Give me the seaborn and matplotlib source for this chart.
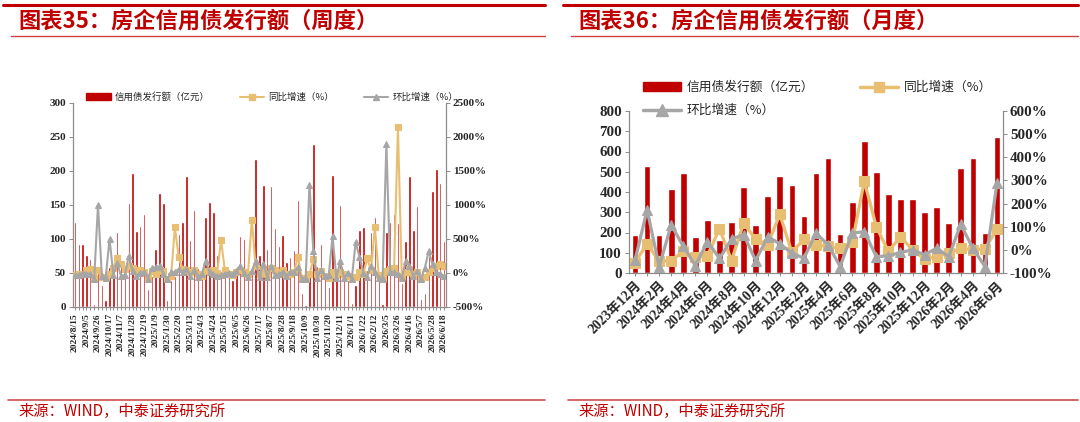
import numpy as np
import pandas as pd
import seaborn as sns
import matplotlib.pyplot as plt
from matplotlib.patches import Patch
from matplotlib.lines import Line2D
from matplotlib.ticker import FuncFormatter

sns.set_theme(style="ticks")
plt.rcParams['font.family'] = ['Liberation Serif', 'Noto Sans CJK SC', 'DejaVu Sans']

RED = "#C00000"
GOLD = "#E8BF72"
GRAY = "#A6A6A6"
AXC = "#8C8C8C"
CJK = ['Noto Sans CJK SC', 'DejaVu Sans']
SERIF = ['Liberation Serif', 'Noto Sans CJK SC']

# weekly data (left chart)
weeks = pd.date_range("2024-08-15", periods=97, freq="7D")
week_labels = [f"{d.year}/{d.month}/{d.day}" for d in weeks]
week_amount = [125, 92, 92, 77, 70, 5, 55, 33, 10, 59,
               45, 110, 60, 44, 153, 197, 112, 119, 137, 26,
               45, 85, 168, 153, 11, 40, 45, 107, 125, 193,
               98, 143, 57, 48, 133, 155, 139, 77, 50, 45,
               48, 40, 50, 105, 100, 45, 60, 217, 76, 180,
               85, 178, 116, 90, 106, 66, 73, 84, 157, 20,
               3, 48, 240, 61, 92, 45, 30, 194, 54, 150,
               40, 40, 6, 33, 113, 118, 55, 111, 133, 40,
               5, 110, 125, 137, 123, 35, 97, 193, 113, 149,
               12, 21, 75, 170, 203, 182, 97]
week_yoy = [-30, -20, -10, 40, 60, -80, 50, -60, -70, -20,
            80, 220, 130, 60, 110, 80, 40, 50, 10, -60,
            30, -20, 50, 30, -90, -40, 670, 230, 60, 50,
            20, 40, -20, -40, 30, 20, 50, 0, 480, 40,
            -10, -30, 10, 40, 20, -20, 780, 100, -20, 60,
            -10, 80, 40, 10, 50, -30, -20, 20, 240, -70,
            -90, -20, 200, -10, 30, -40, -70, 20, -30, 10,
            -20, -50, -90, -60, 10, -10, 215, 40, 680, -30,
            -80, 30, 60, 70, 2140, -40, 10, 60, -10, 20,
            -80, -60, 20, 80, 100, 130, 100]
week_mom = [-30, -26, 0, -16, -9, -93, 1000, -40, -70, 500,
            -24, 140, -45, -27, 250, 29, -43, 6, 15, -81,
            73, 89, 98, -9, -93, 10, 15, 60, 17, 54,
            -49, 46, -60, -16, 177, 17, -10, -45, -35, -10,
            7, -17, 25, 110, -5, -55, 33, 170, -65, 137,
            -53, 109, -35, -22, 18, -38, 11, 15, 87, -87,
            -85, 1300, 330, -75, 51, -51, -33, 540, -72, 178,
            -73, 0, -85, 450, 240, 4, -53, 102, 20, -70,
            -88, 1900, 14, 10, -10, -72, 177, 99, -41, 32,
            -92, 75, 320, 127, 19, -10, -47]

# monthly data (right chart)
months = pd.period_range("2023-12", "2026-06", freq="M")
month_labels = [f"{p.year}年{p.month}月" for p in months]
month_amount = [190, 530, 190, 415, 495, 180, 260, 165, 250, 425,
                235, 380, 480, 435, 280, 495, 570, 195, 350, 650,
                500, 390, 365, 365, 300, 325, 245, 520, 570, 200, 670]
month_yoy = [-55, 27, -50, -46, -7, -33, -26, 92, -46, 115,
             46, 22, 154, -11, 46, 20, 15, 7, 32, 297,
             100, -7, 57, 0, -40, -29, -14, 7, 0, 4, 90]
month_mom = [-45, 173, -72, 108, 15, -68, 36, -37, 46, 66,
             -46, 57, 26, -14, -36, 72, 22, -72, 72, 79,
             -29, -26, -11, 0, -21, 7, -29, 110, 7, -72, 287]

fig = plt.figure(figsize=(10.8, 4.22), dpi=100)


def px(x, y):
    return x / 1080, 1 - y / 422


def style_axes(ax, ax2):
    for a in (ax, ax2):
        a.spines['top'].set_visible(False)
        for s in ('left', 'right', 'bottom'):
            a.spines[s].set_color(AXC)
            a.spines[s].set_linewidth(0.9)
    ax.spines['right'].set_visible(False)
    ax2.spines['left'].set_visible(False)
    ax2.spines['bottom'].set_visible(False)
    ax.set_xlabel("")
    ax.set_ylabel("")
    ax2.set_xlabel("")
    ax2.set_ylabel("")


def pct(v, _):
    return f"{int(v)}%"


def draw(rect, labels, amount, yoy, mom, ylim, yticks, y2lim, y2ticks,
         tick_every, rot, xfs, yfs, bar_w, ms_sq, ms_tri, lw):
    ax = fig.add_axes(rect)
    n = len(labels)
    sns.barplot(x=labels, y=amount, color=RED, saturation=1, width=bar_w,
                ax=ax, zorder=2)
    ax.set_ylim(*ylim)
    ax.set_yticks(yticks)
    ax2 = ax.twinx()
    sns.lineplot(x=np.arange(n), y=yoy, ax=ax2, color=GOLD, lw=lw,
                 marker='s', markersize=ms_sq, markeredgecolor=GOLD,
                 markerfacecolor=GOLD)
    sns.lineplot(x=np.arange(n), y=mom, ax=ax2, color=GRAY, lw=lw,
                 marker='^', markersize=ms_tri, markeredgecolor=GRAY,
                 markerfacecolor=GRAY)
    ax2.set_ylim(*y2lim)
    ax2.set_yticks(y2ticks)
    ax2.yaxis.set_major_formatter(FuncFormatter(pct))
    ax.set_xlim(-0.5, n - 0.5)
    ax.set_xticks(range(n))
    ax.set_xticklabels([lab if i % tick_every == 0 else "" for i, lab in enumerate(labels)])
    style_axes(ax, ax2)
    ax.tick_params(axis='x', length=2.5, width=0.7, color=AXC, pad=2)
    ax.tick_params(axis='y', length=3, width=0.7, color=AXC, pad=2)
    ax2.tick_params(axis='y', length=3, width=0.7, color=AXC, pad=2)
    for t in ax.get_xticklabels():
        t.set_fontfamily(SERIF)
        t.set_fontweight('bold')
        t.set_fontsize(xfs)
        t.set_rotation(rot)
        if rot == 45:
            t.set_ha('right')
            t.set_rotation_mode('anchor')
    for t in ax.get_yticklabels() + ax2.get_yticklabels():
        t.set_fontfamily(SERIF)
        t.set_fontweight('bold')
        t.set_fontsize(yfs)
    return ax, ax2


# left chart (weekly)
axL, axL2 = draw([73 / 1080, 1 - 307 / 422, 373 / 1080, 204 / 422],
                 week_labels, week_amount, week_yoy, week_mom,
                 (0, 300), range(0, 301, 50), (-500, 2500), range(-500, 2501, 500),
                 3, 90, 6.8, 8, 0.62, 4.2, 5, 1.5)

# right chart (monthly)
axR, axR2 = draw([629 / 1080, 1 - 273 / 422, 374 / 1080, 162 / 422],
                 month_labels, month_amount, month_yoy, month_mom,
                 (0, 800), range(0, 801, 100), (-100, 600), range(-100, 601, 100),
                 2, 45, 9.8, 10.8, 0.55, 6.5, 7.5, 2.3)

# legends
handles = [Patch(color=RED),
           Line2D([], [], color=GOLD, lw=1.5, marker='s', markersize=4.5),
           Line2D([], [], color=GRAY, lw=1.5, marker='^', markersize=5)]
names = ["信用债发行额（亿元）", "同比增速（%）", "环比增速（%）"]
fig.legend(handles, names, ncol=3, loc='center left', bbox_to_anchor=px(86, 97),
           frameon=False, prop={'family': CJK, 'size': 6.8}, borderpad=0,
           borderaxespad=0, handlelength=2.6, handletextpad=0.4, columnspacing=3.2)

handles_r = [Patch(color=RED),
             Line2D([], [], color=GRAY, lw=2.5, marker='^', markersize=8),
             Line2D([], [], color=GOLD, lw=2.5, marker='s', markersize=7)]
names_r = ["信用债发行额（亿元）", "环比增速（%）", "同比增速（%）"]
fig.legend(handles_r, names_r, ncol=2, loc='upper left', bbox_to_anchor=px(643, 81),
           frameon=False, prop={'family': CJK, 'size': 9.2}, borderpad=0,
           borderaxespad=0, handlelength=3.0, handletextpad=0.4,
           columnspacing=3.6, labelspacing=0.8)

# titles, rules and sources
for x0, x1, tx, title in [(3, 545, 18, "图表35：房企信用债发行额（周度）"),
                          (563, 1078, 578, "图表36：房企信用债发行额（月度）")]:
    fig.add_artist(Line2D([x0 / 1080, x1 / 1080], [1 - 5 / 422] * 2, color=RED, lw=2.2))
    fig.add_artist(Line2D([(x0 + 8) / 1080, x1 / 1080], [1 - 36 / 422] * 2, color=RED,
                          lw=1.0, alpha=0.75))
    fig.add_artist(Line2D([(x0 + 5) / 1080, x1 / 1080], [1 - 400 / 422] * 2, color=RED,
                          lw=1.2, alpha=0.7))
    fig.text(tx / 1080, 1 - 21 / 422, title, color=RED, fontsize=16,
             fontweight='bold', family=CJK, va='center', ha='left')
    fig.text(tx / 1080, 1 - 411 / 422, "来源：WIND，中泰证券研究所", color=RED,
             fontsize=11, family=CJK, va='center', ha='left')

fig.savefig("out.png", dpi=100)
